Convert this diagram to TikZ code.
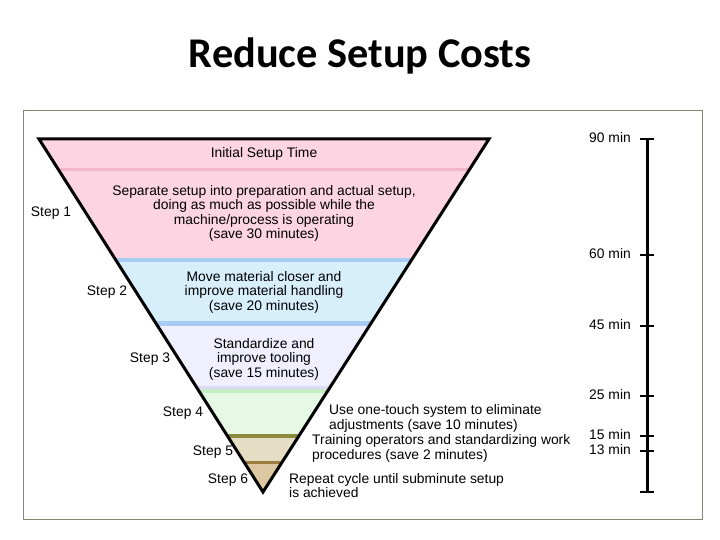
\documentclass[tikz,border=0pt]{standalone}
\usepackage{fontspec}
\setmainfont{Liberation Sans}
\newfontfamily\titlefont{Carlito}
\definecolor{pinkfill}{HTML}{FDD5E2}
\definecolor{pinkline}{HTML}{F2B6C6}
\definecolor{bluefill}{HTML}{D7EEFB}
\definecolor{blueline}{HTML}{A6CDF1}
\definecolor{lavfill}{HTML}{EFEFFD}
\definecolor{lavline}{HTML}{DCDAF6}
\definecolor{greenfill}{HTML}{E5F9E4}
\definecolor{greenline}{HTML}{C3EFC2}
\definecolor{oliveline}{HTML}{8C8A3C}
\definecolor{tanfill}{HTML}{E6DEC4}
\definecolor{brownline}{HTML}{9C7C40}
\definecolor{tandark}{HTML}{DDC7A0}
\definecolor{framecol}{HTML}{7E8A72}
\tikzset{
  txt/.style={inner sep=0pt, align=center, font=\fontsize{13.9}{14.6}\selectfont},
  ltxt/.style={inner sep=0pt, align=left, anchor=west, font=\fontsize{13.9}{14.6}\selectfont},
  steplbl/.style={inner sep=0pt, font=\fontsize{13.9}{14.6}\selectfont},
  minlbl/.style={inner sep=0pt, anchor=east, font=\fontsize{13.9}{14.6}\selectfont},
  tick/.style={line width=1.2bp},
}
\begin{document}
\begin{tikzpicture}[x=1bp,y=-1bp]
\useasboundingbox (0,0) rectangle (720,540);
% title
\node[inner sep=0pt, font=\titlefont\bfseries\fontsize{42.5}{46}\selectfont] (title) at (360,56) {Reduce Setup Costs};
% frame
\draw[framecol, line width=1bp] (23,111) rectangle (702,519);
% triangle coordinates
\coordinate (tl) at (39,139);
\coordinate (tr) at (489,139);
\coordinate (ap) at (263,492);
\begin{scope}
\clip (tl) -- (tr) -- (ap) -- cycle;
\fill[pinkfill] (0,139) rectangle (720,258);
\fill[pinkline] (0,168) rectangle (720,171);
\fill[blueline] (0,258) rectangle (720,262);
\fill[bluefill] (0,262) rectangle (720,321);
\fill[blueline] (0,321) rectangle (720,326);
\fill[lavfill] (0,326) rectangle (720,386);
\fill[lavline] (0,386) rectangle (720,389);
\fill[greenline] (0,389) rectangle (720,393);
\fill[greenfill] (0,393) rectangle (720,434);
\fill[oliveline] (0,434) rectangle (720,438);
\fill[tanfill] (0,438) rectangle (720,461);
\fill[brownline] (0,461) rectangle (720,464);
\fill[tandark] (0,464) rectangle (720,492);
\end{scope}
\draw[line width=3bp] (tl) -- (tr) -- (ap) -- cycle;
% texts inside
\node[txt] (init) at (264,154) {Initial Setup Time};
\node[txt] (s1t) at (264,213.5) {Separate setup into preparation and actual setup,\\doing as much as possible while the\\machine/process is operating\\(save 30 minutes)};
\node[txt] (s2t) at (264,292) {Move material closer and\\improve material handling\\(save 20 minutes)};
\node[txt] (s3t) at (264,359) {Standardize and\\improve tooling\\(save 15 minutes)};
\node[ltxt] (s4t) at (329,418.5) {Use one-touch system to eliminate\\adjustments (save 10 minutes)};
\node[ltxt] (s5t) at (312,448.5) {Training operators and standardizing work\\procedures (save 2 minutes)};
\node[ltxt] (s6t) at (289,485.5) {Repeat cycle until subminute setup\\is achieved};
% step labels
\node[steplbl] (st1) at (51,213) {Step 1};
\node[steplbl] (st2) at (107,292) {Step 2};
\node[steplbl] (st3) at (150,359) {Step 3};
\node[steplbl] (st4) at (183,413) {Step 4};
\node[steplbl] (st5) at (213,452) {Step 5};
\node[steplbl] (st6) at (228,480) {Step 6};
% scale
\coordinate (sctop) at (647,139);
\coordinate (scbot) at (647,492);
\draw[line width=3bp] (sctop) -- (scbot);
\foreach \yy/\lab/\nm in {139/90 min/m90, 255/60 min/m60, 326/45 min/m45, 396/25 min/m25, 436/15 min/m15, 451/13 min/m13}{
  \draw[tick] (640,\yy) -- (654,\yy);
  \node[minlbl] (\nm) at (631,\yy-1) {\lab};
}
\draw[tick] (640,492) -- (654,492);
\end{tikzpicture}
\end{document}
